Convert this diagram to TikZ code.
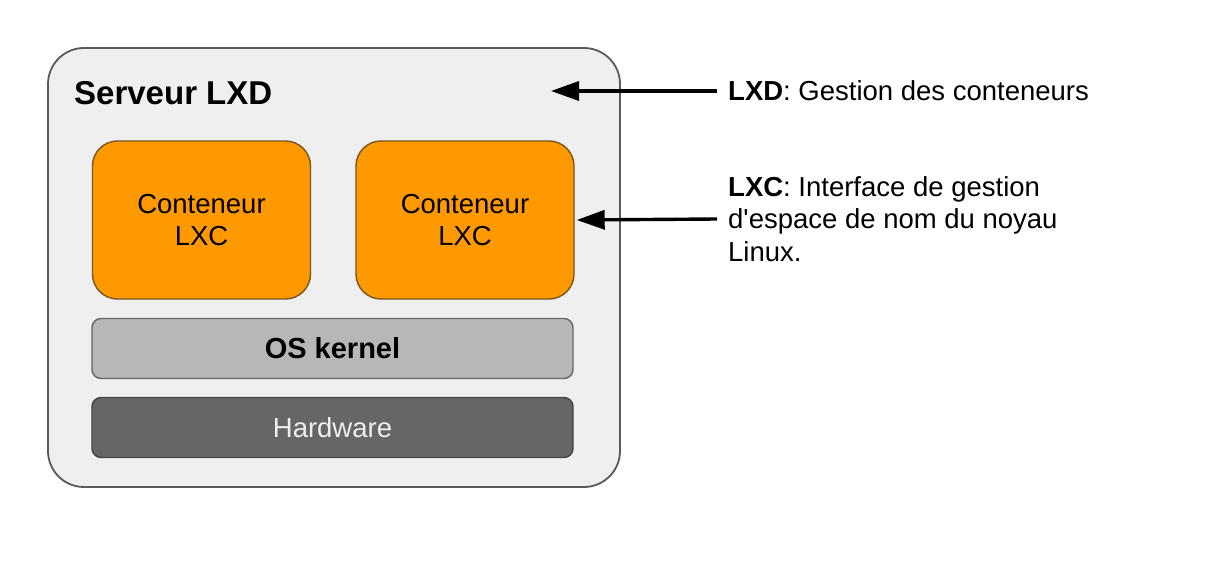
\documentclass[tikz,border=0pt]{standalone}
\usepackage{fontspec}
\setmainfont{Liberation Sans}[Ligatures=TeXOff]
\usepackage{xcolor}
\usetikzlibrary{arrows.meta}
\definecolor{servfill}{HTML}{EFEFEF}
\definecolor{servline}{HTML}{595959}
\definecolor{lxcorange}{HTML}{FF9900}
\definecolor{lxcline}{HTML}{7A5520}
\definecolor{kernfill}{HTML}{B7B7B7}
\definecolor{kernline}{HTML}{666666}
\definecolor{hwfill}{HTML}{666666}
\definecolor{hwline}{HTML}{444444}
\definecolor{hwtext}{HTML}{EEEEEE}

\begin{document}
\begin{tikzpicture}[x=1pt,y=-1pt,
  box/.style={draw,line width=1.4pt,inner sep=0pt,align=center,
    font=\fontsize{27.5}{32.5}\selectfont},
  contbox/.style={box,fill=lxcorange,draw=lxcline,minimum width=218pt,
    minimum height=158pt,rounded corners=25pt},
  layerbox/.style={box,minimum width=481pt,minimum height=60pt,rounded corners=9pt},
  note/.style={anchor=west,inner sep=0pt,align=left,font=\fontsize{27.5}{32.5}\selectfont},
  pointer/.style={line width=3.4pt,-{Triangle[length=28pt,width=19pt]}}]
\useasboundingbox (0,0) rectangle (1226,580);

\node[draw=servline,fill=servfill,line width=1.8pt,rounded corners=36pt,
      minimum width=572pt,minimum height=439pt] (server) at (334,267.5) {};
\node[anchor=west,inner sep=0pt,font=\fontsize{33}{38}\selectfont\bfseries]
      (title) at (74,93) {Serveur LXD};

\foreach\x[count=\i] in {201.5,465}{\node[contbox] (c\i) at (\x,220) {Conteneur\\LXC};};
\node[layerbox,fill=kernfill,draw=kernline,font=\fontsize{29}{33}\selectfont\bfseries]
      (kernel) at (332.5,348.5) {OS kernel};
\node[layerbox,fill=hwfill,draw=hwline,text=hwtext] (hw) at (332.5,427.5) {Hardware};

\node[note] (lxdnote) at (728,91) {\textbf{LXD}: Gestion des conteneurs};
\node[note] (lxcnote) at (728,219) {\textbf{LXC}: Interface de gestion\\d'espace de nom du noyau\\Linux.};

\coordinate (lxdtip) at (551,91);
\draw[pointer] ([xshift=-11pt]lxdnote.west) -- (lxdtip);
\draw[pointer] ([xshift=-11pt]lxcnote.west) -- ([xshift=2pt]c2.east);
\end{tikzpicture}
\end{document}
